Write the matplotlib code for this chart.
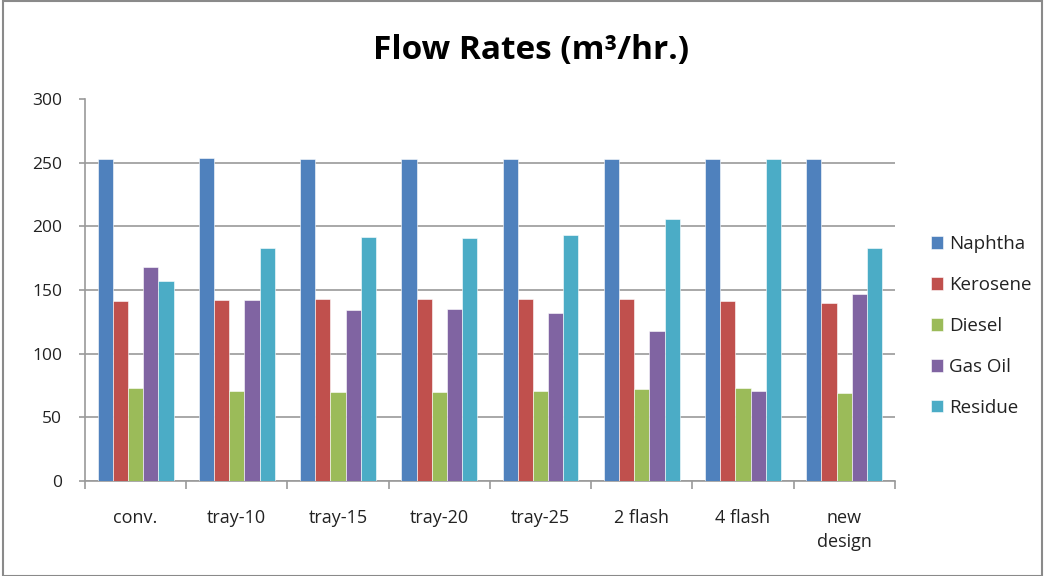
import matplotlib
matplotlib.use("Agg")
import matplotlib.pyplot as plt
import numpy as np
from matplotlib.patches import Rectangle

categories = ["conv.", "tray-10", "tray-15", "tray-20", "tray-25", "2 flash", "4 flash", "new\ndesign"]
naphtha = [253, 254, 253, 253, 253, 253, 253, 253]
kerosene = [141, 142, 143, 143, 143, 143, 141, 140]
diesel = [73, 71, 70, 70, 71, 72, 73, 69]
gas_oil = [168, 142, 134, 135, 132, 118, 71, 147]
residue = [157, 183, 192, 191, 193, 206, 253, 183]
series_names = ["Naphtha", "Kerosene", "Diesel", "Gas Oil", "Residue"]
colors = ["#4F81BD", "#C0504D", "#9BBB59", "#8064A2", "#4BACC6"]
yticks = [0, 50, 100, 150, 200, 250, 300]

plt.rcParams['font.family'] = ['Open Sans', 'DejaVu Sans']

fig = plt.figure(figsize=(10.45, 5.76), dpi=100)
ax = fig.add_axes([0.0813, 0.165, 0.775, 0.663])

x = np.arange(len(categories))
w = 0.15
all_series = [naphtha, kerosene, diesel, gas_oil, residue]
for i, (vals, name, c) in enumerate(zip(all_series, series_names, colors)):
    ax.bar(x + (i - 2) * w, vals, width=w, color=c, label=name,
           edgecolor="white", linewidth=0.4, zorder=3)

ax.set_xlim(-0.5, len(categories) - 0.5)
ax.set_ylim(0, 300)
ax.set_yticks(yticks)
ax.set_yticklabels([str(t) for t in yticks], fontsize=12.5, color="#222222")
ax.yaxis.grid(True, color="#9a9a9a", linewidth=1.2, zorder=0)
ax.get_ygridlines()[-1].set_visible(False)
ax.set_axisbelow(True)

ax.set_xticks(x)
ax.set_xticklabels(categories, fontsize=13, color="#222222", linespacing=1.45)
ax.tick_params(axis="x", which="major", length=0, pad=20)
ax.set_xticks(np.arange(-0.5, len(categories), 1.0), minor=True)
ax.tick_params(axis="x", which="minor", length=6, color="#9a9a9a", width=1.2)
ax.tick_params(axis="y", length=4, color="#9a9a9a", width=1.2, pad=12.5)

for s in ["top", "right"]:
    ax.spines[s].set_visible(False)
for s in ["left", "bottom"]:
    ax.spines[s].set_color("#9a9a9a")
    ax.spines[s].set_linewidth(1.2)

fig.text(0.508, 0.912, "Flow Rates (m³/hr.)", ha="center", va="center",
         fontsize=24, fontweight="bold", color="black")

leg = fig.legend(loc="center left", bbox_to_anchor=(0.875, 0.434), frameon=False,
                 fontsize=13.5, handlelength=0.65, handleheight=0.65,
                 handletextpad=0.3, labelspacing=1.22)
for t in leg.get_texts():
    t.set_color("#222222")

fig.patches.append(Rectangle((0.003, 0.0), 0.994, 0.998, transform=fig.transFigure,
                             fill=False, edgecolor="#8a8a8a", linewidth=1.5))

fig.savefig("out.png", dpi=100)
